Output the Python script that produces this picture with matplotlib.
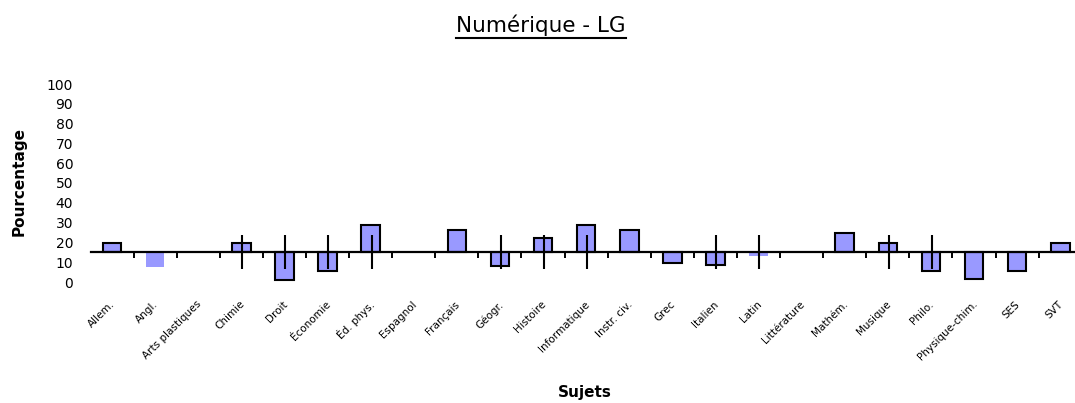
import numpy as np
import matplotlib
matplotlib.use("Agg")
import matplotlib.pyplot as plt
from matplotlib import transforms
from matplotlib.lines import Line2D

nan = np.nan

# Subjects on the category axis
subjects = [
    "Allem.", "Angl.", "Arts plastiques", "Chimie", "Droit", "Économie",
    "Éd. phys.", "Espagnol", "Français", "Géogr.", "Histoire",
    "Informatique", "Instr. civ.", "Grec", "Italien", "Latin", "Littérature",
    "Mathém.", "Musique", "Philo.", "Physique-chim.", "SES", "SVT",
]

# Percentage per subject (nan = no value)
pct = [19.7, 7.6, nan, 19.7, 1.0, 5.6, 28.8, nan, 26.3, 8.1, 22.2,
       28.8, 26.3, 9.6, 8.6, 13.1, nan, 24.7, 19.7, 5.6, 1.5, 5.6, 19.7]

# Range lines (low / high) per subject
range_low = [nan, nan, nan, 6.6, 6.6, 6.6, 6.6, nan, nan, 6.6, 6.6,
             6.6, nan, nan, 6.6, 6.6, nan, nan, 6.6, 6.6, nan, nan, nan]
range_high = [nan, nan, nan, 23.7, 23.7, 23.7, 23.7, nan, nan, 23.7, 23.7,
              23.7, nan, nan, 23.7, 23.7, nan, nan, 23.7, 23.7, nan, nan, nan]

# Level where the category axis crosses the value axis
axis_cross = 15.0

y_ticks = list(range(0, 101, 10))
y_marks = [10, 30, 50, 70]

title = "Numérique - LG"
y_title = "Pourcentage"
x_title = "Sujets"

# Bars drawn without a black border
borderless = {1, 15}

plt.rcParams["font.family"] = ["DejaVu Sans"]

W, H = 1075, 403
fig = plt.figure(figsize=(W / 100, H / 100), dpi=100)
ax = fig.add_axes([90.5 / W, (H - 282) / H, 991.3 / W, 198 / H])

x = np.arange(len(subjects))
vals = np.array(pct, dtype=float)
lo = np.array(range_low, dtype=float)
hi = np.array(range_high, dtype=float)

has_val = ~np.isnan(vals)
edges = ["none" if i in borderless else "black" for i in x[has_val]]
ax.bar(x[has_val], vals[has_val] - axis_cross, bottom=axis_cross,
       width=0.43, color="#9999FF", edgecolor=edges, linewidth=1.5, zorder=2)

has_rng = ~np.isnan(lo)
ax.vlines(x[has_rng] + 0.02, lo[has_rng], hi[has_rng], colors="black",
          linewidth=1.5, zorder=4)

ax.set_xlim(-0.5, len(subjects) - 0.5)
ax.set_ylim(0, 100)

for side in ("top", "right", "left"):
    ax.spines[side].set_visible(False)
ax.spines["bottom"].set_position(("data", axis_cross))
ax.spines["bottom"].set_linewidth(1.6)
ax.spines["bottom"].set_zorder(3)

# Category separators between neighbouring subjects
ax.set_xticks(np.arange(0.5, len(subjects), 1.0))
ax.set_xticklabels([])
ax.tick_params(axis="x", direction="out", length=4.3, width=1.4, color="black")

ax.set_yticks(y_ticks)
ax.set_yticklabels([str(v) for v in y_ticks], fontsize=10)
ax.set_yticks(y_marks, minor=True)
ax.tick_params(axis="y", which="major", length=0, pad=12.5)
ax.tick_params(axis="y", which="minor", length=3, width=1.4, color="black")

lab_tr = transforms.blended_transform_factory(ax.transData, ax.transAxes) + \
    transforms.ScaledTranslation(-0.02, -0.17, fig.dpi_scale_trans)
for i, name in enumerate(subjects):
    ax.text(i, 0, name, transform=lab_tr, rotation=45, ha="right", va="top",
            rotation_mode="anchor", fontsize=7.5)

t = fig.text(541 / W, (H - 25) / H, title, ha="center", va="center",
             fontsize=15.5)
fig.text(19 / W, (H - 181) / H, y_title, rotation=90, ha="center",
         va="center", fontsize=11, fontweight="bold")
fig.text(585 / W, (H - 393) / H, x_title, ha="center", va="center",
         fontsize=11, fontweight="bold")

# Underline the title
fig.canvas.draw()
bb = t.get_window_extent()
uy = (bb.y0 - 2) / H
fig.add_artist(Line2D([bb.x0 / W, bb.x1 / W], [uy, uy], color="black",
                      linewidth=1.5, transform=fig.transFigure))

fig.savefig("out.png", dpi=100)
